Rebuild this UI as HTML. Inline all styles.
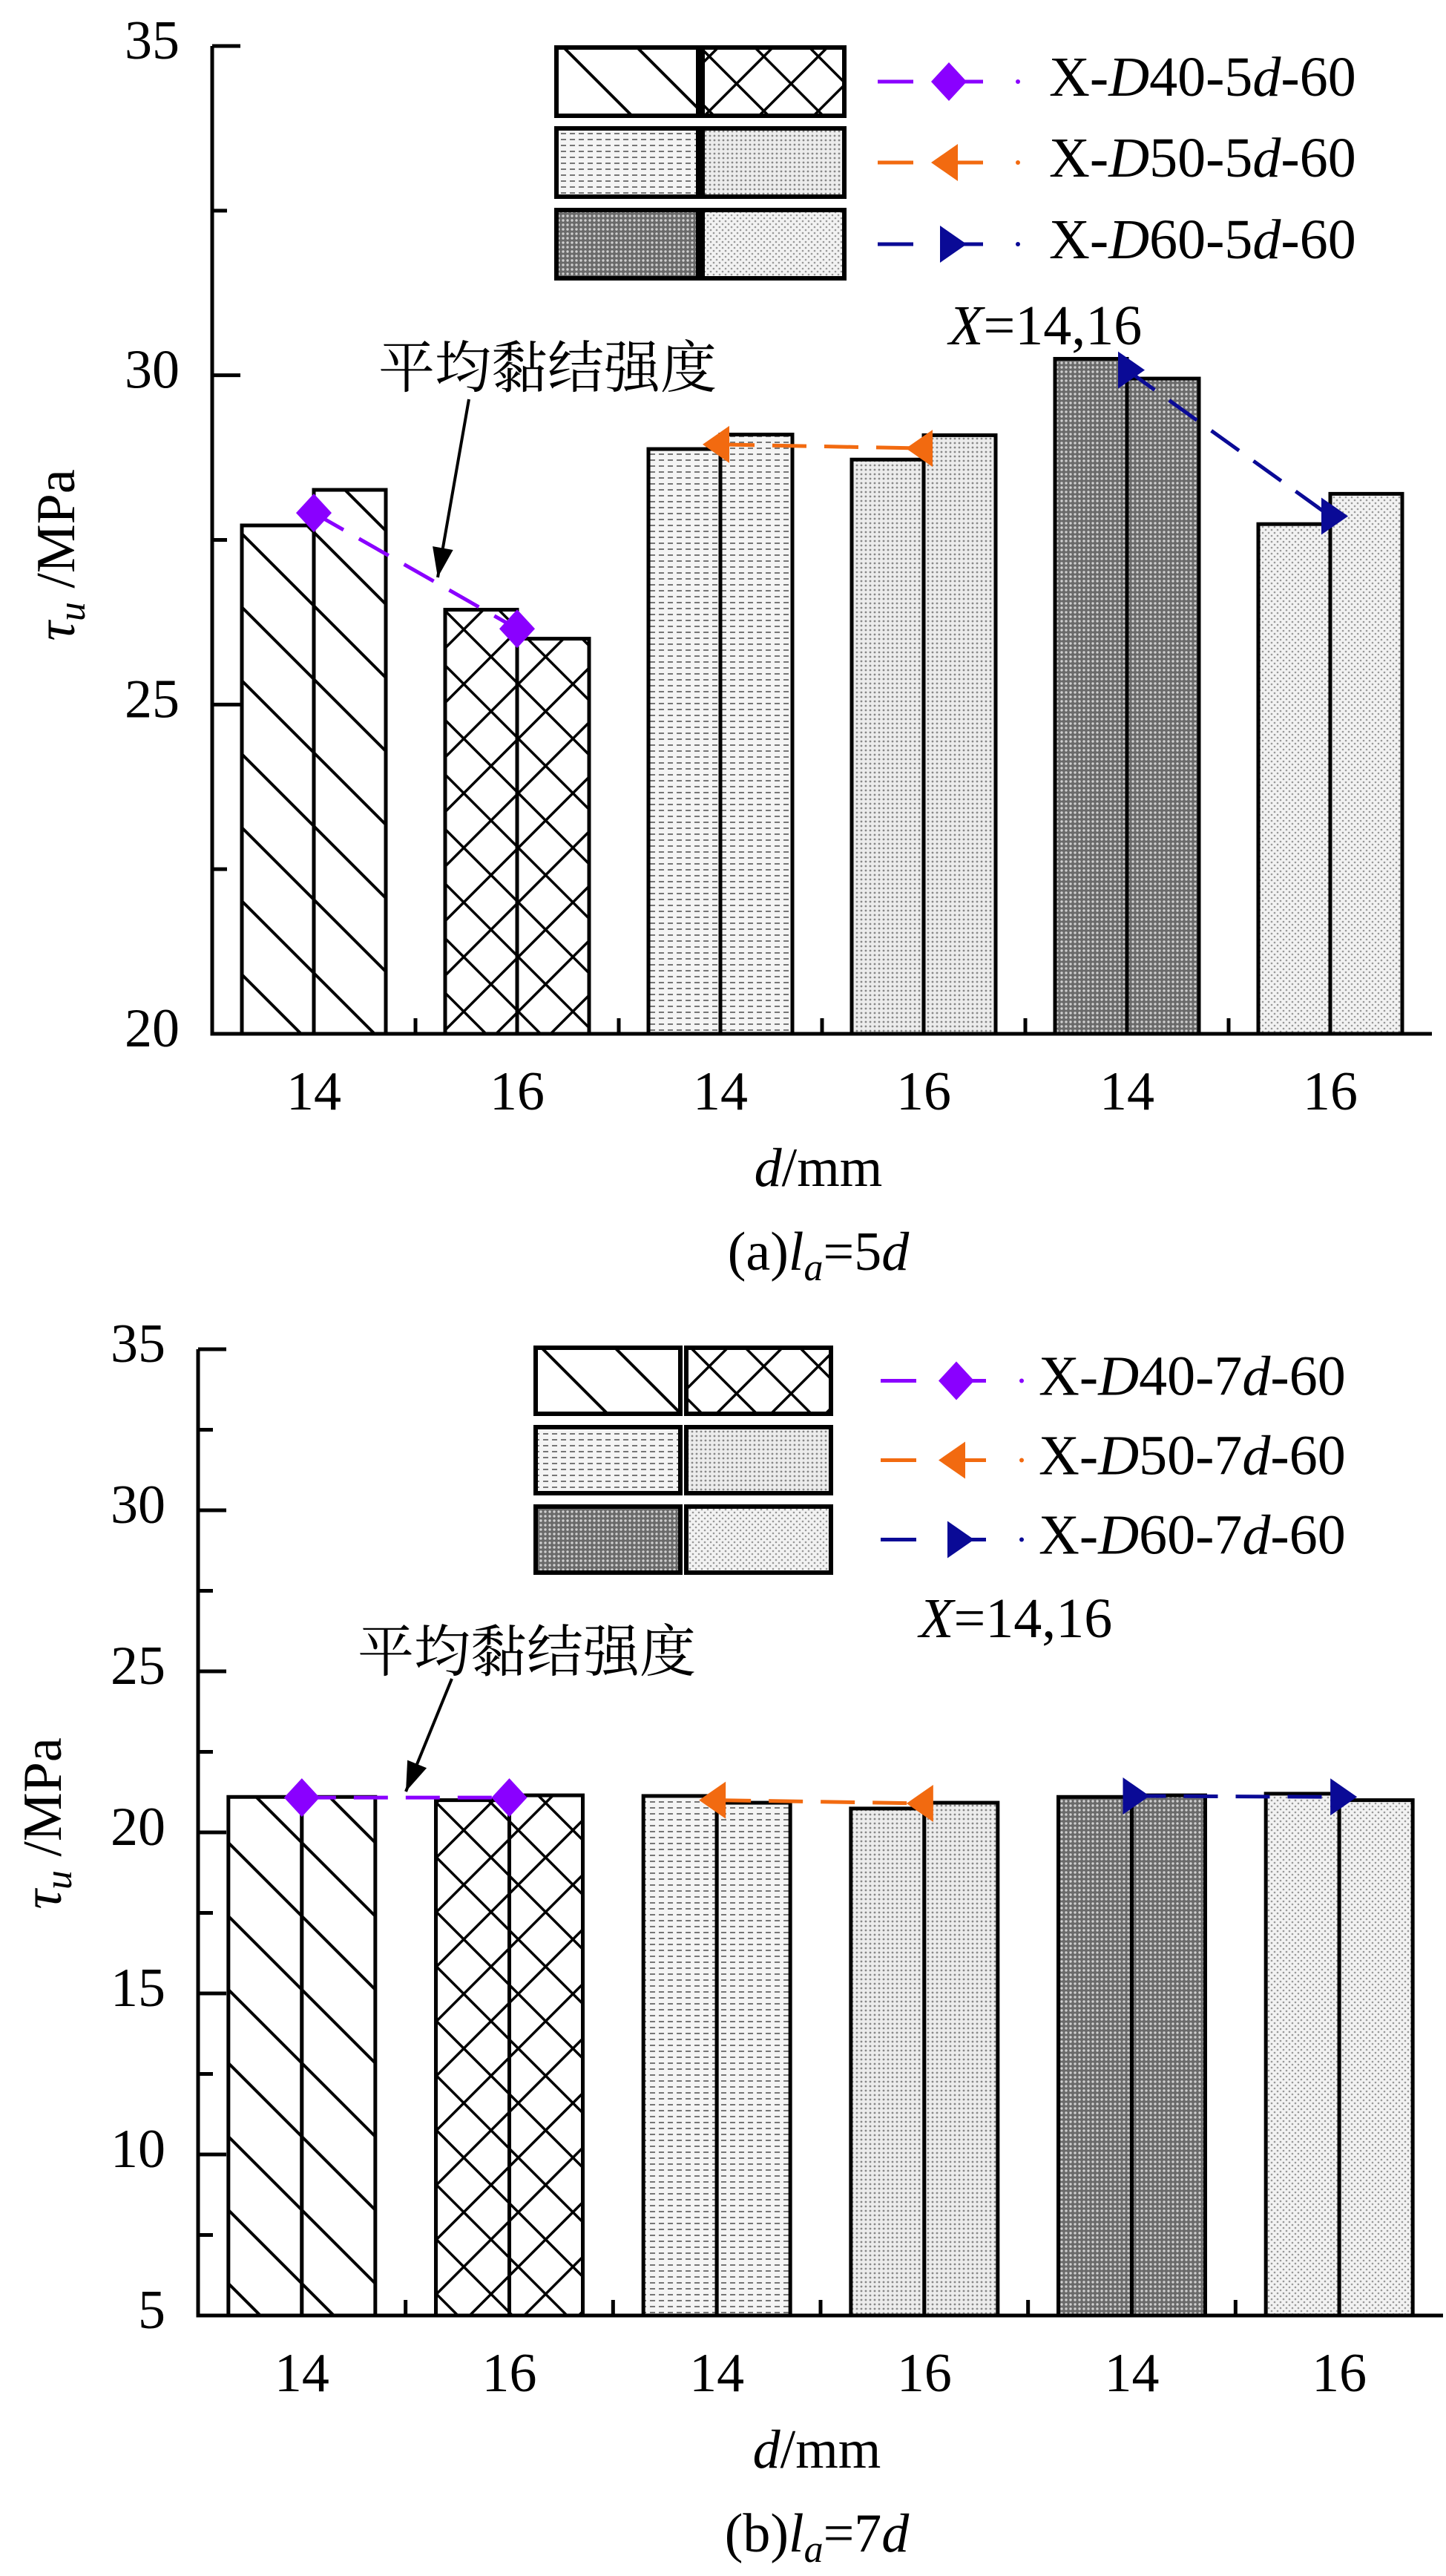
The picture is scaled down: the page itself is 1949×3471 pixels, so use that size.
<!DOCTYPE html>
<html><head><meta charset="utf-8">
<style>
html,body{margin:0;padding:0;background:#fff;}
svg{display:block;}
text{font-family:"Liberation Serif","Noto Serif CJK SC",serif;fill:#000;}
</style></head>
<body>
<svg id="fig" width="1949" height="3471" viewBox="0 0 1949 3471" xmlns="http://www.w3.org/2000/svg">
<defs>
  <pattern id="hatch" patternUnits="userSpaceOnUse" width="70" height="70" patternTransform="rotate(-45)">
    <rect width="70" height="70" fill="#fff"/><line x1="0" y1="0" x2="0" y2="70" stroke="#000" stroke-width="8"/>
  </pattern>
  <pattern id="cross" patternUnits="userSpaceOnUse" width="52" height="52" patternTransform="rotate(45)">
    <rect width="52" height="52" fill="#fff"/><line x1="0" y1="0" x2="0" y2="52" stroke="#000" stroke-width="7"/><line x1="0" y1="0" x2="52" y2="0" stroke="#000" stroke-width="7"/>
  </pattern>
  <pattern id="dash" patternUnits="userSpaceOnUse" width="12" height="8">
    <rect width="12" height="8" fill="#f4f4f4"/><line x1="0" y1="4" x2="7" y2="4" stroke="#777" stroke-width="2"/>
  </pattern>
  <pattern id="dots" patternUnits="userSpaceOnUse" width="6" height="6">
    <rect width="6" height="6" fill="#ececec"/><circle cx="3" cy="3" r="1.4" fill="#888"/>
  </pattern>
  <pattern id="dark" patternUnits="userSpaceOnUse" width="6" height="6">
    <rect width="6" height="6" fill="#6a6a6a"/><circle cx="3" cy="3" r="1.7" fill="#d0d0d0"/>
  </pattern>
  <pattern id="light" patternUnits="userSpaceOnUse" width="8" height="8">
    <rect width="8" height="8" fill="#f2f2f2"/><circle cx="2" cy="2" r="1.3" fill="#999"/><circle cx="6" cy="6" r="1.3" fill="#999"/>
  </pattern>
</defs>
<g id="chartA"></g>
<g id="chartB"></g>
</svg>
<script>
// categories
const categories = ['14','16','14','16','14','16'];
// chart (a) la=5d
const aBarLeft  = [27.72, 26.44, 28.88, 28.72, 30.25, 27.74];
const aBarRight = [28.26, 26.00, 29.10, 29.09, 29.95, 28.20];
const aAvg      = [27.91, 26.15, 28.95, 28.89, 30.08, 27.86];
const aTicks    = [20, 25, 30, 35];
const aSeries   = ['X-D40-5d-60','X-D50-5d-60','X-D60-5d-60'];
// chart (b) la=7d
const bBarLeft  = [21.10, 21.00, 21.13, 20.74, 21.10, 21.20];
const bBarRight = [21.10, 21.15, 20.92, 20.92, 21.15, 21.00];
const bAvg      = [21.08, 21.08, 21.00, 20.90, 21.13, 21.10];
const bTicks    = [5, 10, 15, 20, 25, 30, 35];
const bSeries   = ['X-D40-7d-60','X-D50-7d-60','X-D60-7d-60'];

const fills = ['url(#hatch)','url(#cross)','url(#dash)','url(#dots)','url(#dark)','url(#light)'];
const colors = ['#8a00ff','#f26a10','#0a0a96'];
const NS='http://www.w3.org/2000/svg';
function mk(parent,tag,attrs,txt){const e=document.createElementNS(NS,tag);for(const k in attrs)e.setAttribute(k,attrs[k]);if(txt!==undefined)e.textContent=txt;parent.appendChild(e);return e;}

function marker(g,kind,cx,cy,color){
  let p;
  if(kind===0) p=`${cx-24},${cy} ${cx},${cy-26} ${cx+24},${cy} ${cx},${cy+26}`;
  else if(kind===1) p=`${cx-24},${cy} ${cx+12},${cy-25} ${cx+12},${cy+25}`;
  else p=`${cx+24},${cy} ${cx-12},${cy-25} ${cx-12},${cy+25}`;
  const m=mk(g,'polygon',{points:p,fill:color});
  
  
  return m;
}
function seriesLabel(g,x,y,name){
  const t=mk(g,'text',{x:x,y:y,'font-size':76,'dominant-baseline':'middle'});
  
  
  const parts=name.match(/^X-D(\d+)-(\d)d-(\d+)$/);
  mk(t,'tspan',{},'X-');mk(t,'tspan',{'font-style':'italic'},'D');mk(t,'tspan',{},parts[1]+'-'+parts[2]);
  mk(t,'tspan',{'font-style':'italic'},'d');mk(t,'tspan',{},'-'+parts[3]);
}

function drawChart(cfg){
  const g=document.getElementById(cfg.id);
  const {x0,x1,yTop,yBot,ymin,ymax}=cfg;
  const n=categories.length, step=(x1-x0)/n;
  const X=i=>x0+step*(i+0.5);
  const Y=v=>yBot-(v-ymin)/(ymax-ymin)*(yBot-yTop);
  const bw=cfg.bw;
  for(let i=0;i<n;i++){
    const c=X(i);
    const r1=mk(g,'rect',{x:c-bw,y:Y(cfg.left[i]),width:bw,height:yBot-Y(cfg.left[i]),fill:fills[i],stroke:'#000','stroke-width':5});
    
    
    const r2=mk(g,'rect',{x:c,y:Y(cfg.right[i]),width:bw,height:yBot-Y(cfg.right[i]),fill:fills[i],stroke:'#000','stroke-width':5});
    
    
  }
  for(let s=0;s<3;s++){
    const i=s*2;
    const l=mk(g,'line',{x1:X(i),y1:Y(cfg.avg[i]),x2:X(i+1),y2:Y(cfg.avg[i+1]),stroke:colors[s],'stroke-width':5,'stroke-dasharray':'46 24'});
    
    
    marker(g,s,X(i),Y(cfg.avg[i]),colors[s]);
    marker(g,s,X(i+1),Y(cfg.avg[i+1]),colors[s]);
  }
  const ax=mk(g,'path',{d:`M${x0},${yTop} L${x0},${yBot} L${x1},${yBot}`,fill:'none',stroke:'#000','stroke-width':5});
  
  
  for(let v=ymin;v<=ymax;v+=cfg.minor){
    const major=cfg.ticks.includes(v);
    mk(g,'line',{x1:x0,y1:Y(v),x2:x0+(major?38:20),y2:Y(v),stroke:'#000','stroke-width':5});
  }
  cfg.ticks.forEach(v=>{
    const t=mk(g,'text',{x:x0-44,y:Y(v),'font-size':74,'text-anchor':'end','dominant-baseline':'middle'},String(v));
    
    
  });
  for(let i=1;i<n;i++) mk(g,'line',{x1:x0+step*i,y1:yBot,x2:x0+step*i,y2:yBot-21,stroke:'#000','stroke-width':5});
  categories.forEach((c,i)=>{
    const t=mk(g,'text',{x:X(i),y:yBot+102,'font-size':74,'text-anchor':'middle'},c);
    
    
  });
  const xt=mk(g,'text',{x:(x0+x1)/2-5,y:yBot+205,'font-size':74,'text-anchor':'middle'});
  
  
  mk(xt,'tspan',{'font-style':'italic'},'d');mk(xt,'tspan',{},'/mm');
  const yt=mk(g,'text',{x:0,y:0,'font-size':74,'text-anchor':'middle',transform:`translate(${cfg.ytx},${cfg.yty}) rotate(-90)`});
  
  
  mk(yt,'tspan',{'font-style':'italic'},'τ');mk(yt,'tspan',{'font-style':'italic','font-size':52,dy:14},'u');mk(yt,'tspan',{dy:-14},' /MPa');
  const cap=mk(g,'text',{x:(x0+x1)/2-5,y:yBot+318,'font-size':74,'text-anchor':'middle'});
  
  
  mk(cap,'tspan',{},'('+cfg.letter+')');mk(cap,'tspan',{'font-style':'italic'},'l');
  mk(cap,'tspan',{'font-style':'italic','font-size':52,dy:14},'a');mk(cap,'tspan',{dy:-14},'='+cfg.k);mk(cap,'tspan',{'font-style':'italic'},'d');
  const L=cfg.leg;
  for(let r=0;r<3;r++){
    for(let c=0;c<2;c++){
      const b=mk(g,'rect',{x:L.bx[c],y:L.by[r],width:L.bw,height:L.bh,fill:fills[r*2+c],stroke:'#000','stroke-width':6});
      
      
    }
    const cy=L.by[r]+L.bh/2;
    mk(g,'line',{x1:L.lx,y1:cy,x2:L.lx+48,y2:cy,stroke:colors[r],'stroke-width':5});
    mk(g,'line',{x1:L.mx,y1:cy,x2:L.lx+142,y2:cy,stroke:colors[r],'stroke-width':5});
    marker(g,r,L.mx,cy,colors[r]);
    mk(g,'circle',{cx:L.dx,cy:cy,r:3,fill:colors[r]});
    seriesLabel(g,L.tx,cy+2,cfg.series[r]);
  }
  const xl=mk(g,'text',{x:L.xx,y:L.xy,'font-size':76});
  
  
  mk(xl,'tspan',{'font-style':'italic'},'X');mk(xl,'tspan',{},'=14,16');
  const an=mk(g,'text',{x:cfg.ann.x,y:cfg.ann.y,'font-size':76},'平均黏结强度');
  
  
  const a=cfg.ann;
  mk(g,'line',{x1:a.x1,y1:a.y1,x2:a.x2,y2:a.y2,stroke:'#000','stroke-width':4});
  const ang=Math.atan2(a.y2-a.y1,a.x2-a.x1), L2=40, W=14;
  const bx=a.x2-L2*Math.cos(ang), by=a.y2-L2*Math.sin(ang);
  const ah=mk(g,'polygon',{points:`${a.x2},${a.y2} ${bx+W*Math.sin(ang)},${by-W*Math.cos(ang)} ${bx-W*Math.sin(ang)},${by+W*Math.cos(ang)}`,fill:'#000'});
  
  
}

drawChart({id:'chartA',x0:286,x1:1930,yTop:62,yBot:1393,ymin:20,ymax:35,minor:2.5,ticks:aTicks,bw:97,
  left:aBarLeft,right:aBarRight,avg:aAvg,series:aSeries,letter:'a',k:'5',ytx:100,yty:748,
  leg:{bx:[750,947],by:[64,173,283],bw:191,bh:92,lx:1183,mx:1279,dx:1372,tx:1414,xx:1279,xy:464},
  ann:{x:510,y:522,x1:632,y1:538,x2:590,y2:778}});
drawChart({id:'chartB',x0:267,x1:1945,yTop:1818,yBot:3120,ymin:5,ymax:35,minor:2.5,ticks:bTicks,bw:99,
  left:bBarLeft,right:bBarRight,avg:bAvg,series:bSeries,letter:'b',k:'7',ytx:82,yty:2457,
  leg:{bx:[722,925],by:[1816,1923,2030],bw:195,bh:89,lx:1187,mx:1289,dx:1377,tx:1400,xx:1239,xy:2206},
  ann:{x:482,y:2252,x1:609,y1:2262,x2:547,y2:2414}});
</script>
</body></html>
